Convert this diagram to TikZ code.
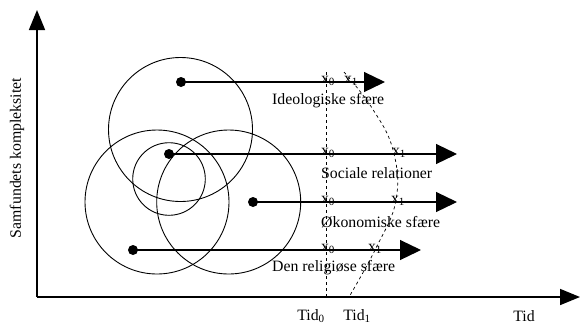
\documentclass[tikz,border=0pt]{standalone}
\usepackage{fontspec}
\setmainfont{Liberation Serif}
\usetikzlibrary{arrows.meta}
\begin{document}
\begin{tikzpicture}[x=1pt,y=-1pt,
  dot/.style={circle,fill=black,inner sep=0pt,minimum size=10pt},
  ring/.style={draw,line width=0.9pt},
  bigarrow/.style={line width=1.2pt,-{Triangle[length=21pt,width=20pt]}},
  axis/.style={line width=1.6pt,-{Triangle[length=20pt,width=16pt]}},
  lbl/.style={font=\fontsize{15.8}{18}\selectfont,inner sep=0pt},
  xl/.style={font=\fontsize{15.8}{18}\selectfont,inner sep=0pt,anchor=base}]
\useasboundingbox (0,0) rectangle (580,325);
% axes
\coordinate (O) at (37,297);
\coordinate (ytip) at (37,10);
\coordinate (xtip) at (580,297);
\draw[axis] (O) -- (ytip);
\draw[axis] (O) -- (xtip);
\node[lbl,rotate=90] (ylab) at (17,158) {Samfundets kompleksitet};
% circles
\draw[ring] (180.5,129.5) circle (72);
\draw[ring] (157,202) circle (72);
\draw[ring] (228.7,202) circle (72);
\draw[ring] (169,179) circle (36.3);
% dashed lines
\coordinate (d0t) at (326,72);
\coordinate (d0b) at (326,297);
\draw[dashed,line width=0.7pt] (d0t) -- (d0b);
\draw[dashed,line width=0.7pt] plot[smooth,tension=0.7] coordinates {(344,72) (372,108) (393,150) (396,200) (376,248) (349,297)};
% dots and arrows
\node[dot] (d1) at (181,82) {};
\node[dot] (d2) at (169,154) {};
\node[dot] (d3) at (253,202) {};
\node[dot] (d4) at (133,250) {};
\coordinate (e1) at (385,82);
\coordinate (e2) at (457,154);
\coordinate (e3) at (457,202);
\coordinate (e4) at (421,250);
\draw[bigarrow] (d1.center) -- (e1);
\draw[bigarrow] (d2.center) -- (e2);
\draw[bigarrow] (d3.center) -- (e3);
\draw[bigarrow] (d4.center) -- (e4);
% x labels
\node[xl] (a0) at (328,83) {x\textsubscript{0}};
\node[xl] (a1) at (351,83) {x\textsubscript{1}};
\node[xl] (b0) at (328,155) {x\textsubscript{0}};
\node[xl] (b1) at (399,155) {x\textsubscript{1}};
\node[xl] (c0) at (328,203) {x\textsubscript{0}};
\node[xl] (c1) at (398,203) {x\textsubscript{1}};
\node[xl] (f0) at (328,251) {x\textsubscript{0}};
\node[xl] (f1) at (375,251) {x\textsubscript{1}};
% sphere labels
\node[lbl,anchor=west] (l1) at (272,101) {Ideologiske sfære};
\node[lbl,anchor=west] (l2) at (321,173) {Sociale relationer};
\node[lbl,anchor=west] (l3) at (321,222) {Økonomiske sfære};
\node[lbl,anchor=west] (l4) at (272,268) {Den religiøse sfære};
% time labels
\node[lbl] (t0) at (311,316) {Tid\textsubscript{0}};
\node[lbl] (t1) at (357,316) {Tid\textsubscript{1}};
\node[lbl] (t) at (524,316) {Tid};
\end{tikzpicture}
\end{document}
